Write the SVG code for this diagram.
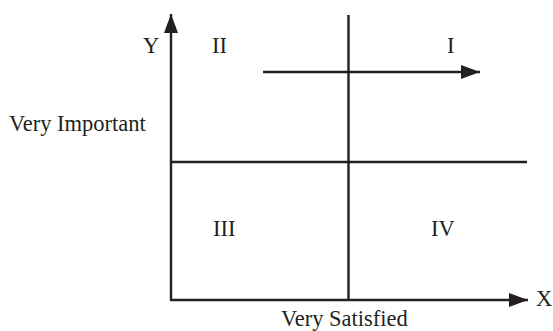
<svg xmlns="http://www.w3.org/2000/svg" width="553" height="331" viewBox="0 0 553 331">
<style>
.ln{stroke:#231f20;stroke-width:2.4;fill:none}
.t{font-family:"Liberation Serif","Times New Roman",serif;font-size:22.5px;fill:#231f20}
</style>
<defs>
<marker id="ah" markerUnits="userSpaceOnUse" markerWidth="20" markerHeight="15" refX="19" refY="7.5" orient="auto">
<path d="M0,0.5 L19,7.5 L0,14.5 Z" fill="#231f20"/>
</marker>
</defs>
<rect width="553" height="331" fill="#fff"/>
<g id="connectors">
<line class="ln" x1="171" y1="301" x2="171" y2="14" marker-end="url(#ah)"/>
<line class="ln" x1="170" y1="300" x2="528" y2="300" marker-end="url(#ah)"/>
<line class="ln" x1="348.5" y1="15" x2="348.5" y2="300"/>
<line class="ln" x1="171" y1="162" x2="527" y2="162"/>
<line class="ln" x1="263" y1="72" x2="480" y2="72" marker-end="url(#ah)"/>
</g>
<g id="labels">
<text class="t" x="143" y="53">Y</text>
<text class="t" x="212" y="53">II</text>
<text class="t" x="447" y="53">I</text>
<text class="t" x="9" y="131">Very Important</text>
<text class="t" x="213" y="236">III</text>
<text class="t" x="431" y="236">IV</text>
<text class="t" x="536" y="306">X</text>
<text class="t" x="281" y="326">Very Satisfied</text>
</g>
</svg>
